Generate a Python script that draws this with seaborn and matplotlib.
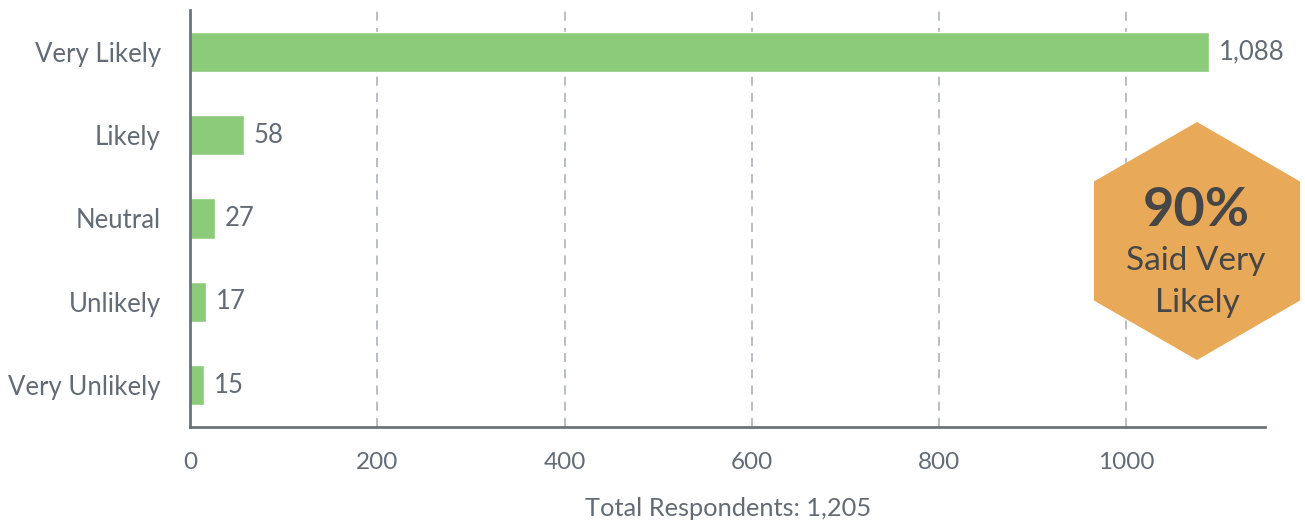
import matplotlib
matplotlib.use("Agg")
import matplotlib.pyplot as plt
from matplotlib.patches import RegularPolygon
import matplotlib.transforms as mtrans
import seaborn as sns
import pandas as pd

categories = ["Very Likely", "Likely", "Neutral", "Unlikely", "Very Unlikely"]
counts = [1088, 58, 27, 17, 15]
value_labels = ["1,088", "58", "27", "17", "15"]
x_ticks = [0, 200, 400, 600, 800, 1000]
footer = "Total Respondents: 1,205"
badge_big = "90%"
badge_line1 = "Said Very"
badge_line2 = "Likely"

sns.set_theme(style="white")
plt.rcParams['font.family'] = ['Lato', 'DejaVu Sans']

W, H = 1305, 526
fig = plt.figure(figsize=(W / 100, H / 100), dpi=100)
ax = fig.add_axes([190 / W, 1 - 427 / H, (1265 - 190) / W, (427 - 10) / H])

df = pd.DataFrame({"category": categories, "count": counts})
sns.barplot(data=df, y="category", x="count", color="#8ccb7a", saturation=1,
            width=0.48, ax=ax, orient="h")

text_color = "#636b75"
ax.set_xlim(0, 1148)
ax.set_ylim(4.5, -0.5)
ax.set_xticks(x_ticks)
ax.set_xticklabels([str(t) for t in x_ticks])
ax.tick_params(axis="both", length=0, colors=text_color)
ax.tick_params(axis="y", labelsize=18.5, pad=21)
ax.tick_params(axis="x", labelsize=17.5, pad=18)
ax.set_xlabel("")
ax.set_ylabel("")
for t in x_ticks[1:]:
    ax.axvline(t, color="#b4b9bf", linestyle=(0, (5, 4)), linewidth=1.3, zorder=0)
for s in ["top", "right"]:
    ax.spines[s].set_visible(False)
for s in ["left", "bottom"]:
    ax.spines[s].set_color("#6d737b")
    ax.spines[s].set_linewidth(2)

for i, (v, lab) in enumerate(zip(counts, value_labels)):
    ax.annotate(lab, xy=(v, i), xytext=(7, 0), textcoords="offset points",
                va="center", ha="left", fontsize=18.5, color=text_color)

fig.text(728 / W, 1 - 509 / H, footer, ha="center", va="center",
         fontsize=18.3, color=text_color)

# badge hexagon in figure pixel coordinates
cx, cy = 1197, H - 241
R = 119
hexagon = RegularPolygon((0, 0), numVertices=6, radius=R, orientation=0,
                         facecolor="#e8a958", edgecolor="none", zorder=5,
                         transform=mtrans.Affine2D().translate(cx, cy)
                         + mtrans.Affine2D().scale(1.0 / W, 1.0 / H) + fig.transFigure)
fig.patches.append(hexagon)

fig.text(1196 / W, 1 - 211 / H, badge_big, ha="center", va="center",
         fontsize=39, fontweight="bold", color="#464646", zorder=6)
fig.text(1196 / W, 1 - 261 / H, badge_line1, ha="center", va="center",
         fontsize=24, color="#464646", zorder=6)
fig.text(1197 / W, 1 - 303 / H, badge_line2, ha="center", va="center",
         fontsize=24, color="#464646", zorder=6)

fig.savefig("out.png", dpi=100)
